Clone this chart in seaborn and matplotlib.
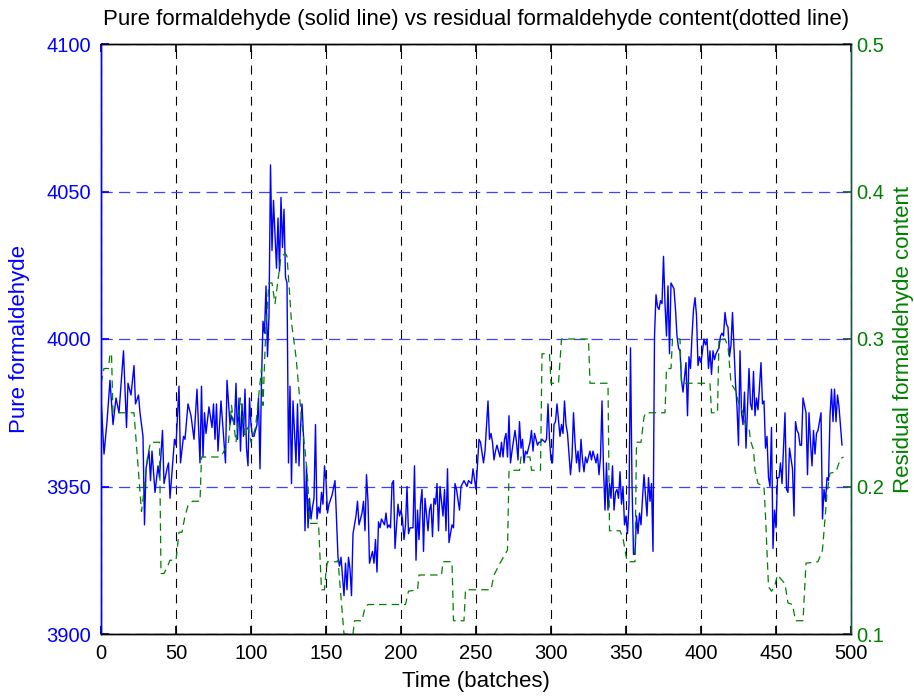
import matplotlib
matplotlib.use("Agg")
import matplotlib.pyplot as plt
import seaborn as sns
import pandas as pd

# ---------------- data ----------------
blue_batch = [0, 2, 4, 6, 8, 10, 12, 15, 17, 18, 20, 22, 23, 25, 26, 28, 29, 30, 32, 33, 34, 36, 38, 39, 41, 42, 44, 45, 46, 49,
              50, 52, 53, 55, 56, 58, 60, 62, 64, 66, 67, 68, 69, 70, 72, 74, 75, 76, 77, 78, 80, 82, 83, 84, 86, 87, 89, 90, 91, 92,
              93, 94, 95, 96, 97, 98, 99, 100, 101, 102, 104, 105, 106, 107, 108, 109, 110, 111, 112, 113, 114, 115, 117, 118, 119, 120,
              121, 122, 123, 124, 125, 126, 127, 128, 130, 131, 132, 133, 134, 135, 136, 137, 138, 139, 140, 141, 142, 143, 144, 145,
              146, 147, 148, 149, 150, 151, 152, 154, 156, 158, 159, 160, 162, 163, 164, 165, 166, 167, 168, 170, 171, 172, 174, 175,
              176, 177, 178, 179, 181, 182, 183, 184, 185, 186, 187, 189, 190, 191, 192, 193, 194, 195, 196, 198, 199, 200, 201, 202,
              203, 204, 205, 206, 208, 209, 210, 211, 212, 213, 214, 215, 216, 218, 219, 220, 221, 222, 223, 224, 225, 226, 228, 229,
              230, 231, 232, 234, 235, 236, 237, 239, 240, 241, 242, 244, 245, 247, 248, 250, 252, 253, 255, 256, 258, 259, 260, 261,
              262, 263, 264, 266, 267, 268, 269, 270, 271, 272, 273, 274, 276, 277, 278, 279, 280, 281, 282, 283, 284, 286, 287, 288,
              289, 290, 291, 292, 293, 294, 296, 297, 298, 299, 300, 301, 302, 303, 304, 306, 307, 308, 309, 310, 311, 313, 314, 315,
              316, 317, 318, 319, 320, 321, 322, 323, 324, 325, 326, 327, 328, 330, 331, 332, 333, 334, 335, 336, 337, 338, 339, 340,
              341, 342, 343, 344, 345, 346, 347, 348, 349, 350, 351, 352, 353, 354, 355, 356, 357, 358, 359, 360, 361, 362, 364, 365,
              366, 367, 368, 369, 370, 371, 372, 373, 374, 375, 376, 377, 378, 379, 380, 382, 383, 384, 385, 386, 387, 388, 389, 390,
              391, 392, 393, 394, 395, 396, 397, 398, 399, 400, 402, 403, 404, 405, 406, 407, 408, 409, 410, 412, 413, 414, 415, 416,
              417, 418, 419, 420, 421, 422, 423, 424, 425, 426, 427, 428, 429, 430, 432, 433, 434, 435, 436, 437, 438, 440, 441, 442,
              443, 444, 445, 446, 447, 448, 449, 450, 451, 452, 453, 454, 456, 457, 458, 459, 461, 462, 463, 464, 465, 466, 467, 468,
              470, 471, 472, 473, 474, 475, 476, 477, 478, 480, 481, 482, 483, 484, 485, 486, 487, 488, 489, 490, 491, 492, 494]
blue_value = [3980, 3961, 3972, 3986, 3971, 3980, 3975, 3996, 3970, 3985, 3981, 3991, 3978, 3981, 3975, 3967, 3937, 3956, 3962, 3952,
              3962, 3948, 3957, 3953, 3969, 3951, 3956, 3958, 3946, 3966, 3964, 3984, 3958, 3967, 3966, 3978, 3974, 3966, 3983, 3958,
              3984, 3960, 3975, 3968, 3977, 3970, 3978, 3966, 3978, 3962, 3979, 3965, 3958, 3986, 3971, 3974, 3971, 3985, 3966, 3980,
              3962, 3978, 3967, 3983, 3963, 3957, 3980, 3971, 3967, 3967, 3971, 3980, 3956, 3986, 4006, 4002, 4018, 3994, 4008, 4059,
              4030, 4047, 4024, 4041, 4023, 4048, 4031, 4044, 4021, 4019, 3958, 3984, 3951, 3979, 3958, 3978, 3957, 3970, 3978, 3967,
              3935, 3957, 3936, 3946, 3939, 3943, 3946, 3971, 3939, 3943, 3941, 3948, 3944, 3957, 3952, 3941, 3944, 3947, 3952, 3926,
              3923, 3926, 3913, 3924, 3915, 3926, 3922, 3913, 3934, 3940, 3945, 3937, 3941, 3945, 3935, 3954, 3945, 3924, 3928, 3924,
              3932, 3921, 3938, 3936, 3939, 3937, 3941, 3936, 3937, 3936, 3951, 3952, 3929, 3944, 3940, 3942, 3939, 3932, 3937, 3950,
              3934, 3936, 3936, 3957, 3925, 3942, 3932, 3944, 3949, 3928, 3946, 3935, 3942, 3944, 3933, 3946, 3944, 3951, 3935, 3950,
              3940, 3949, 3935, 3956, 3931, 3937, 3936, 3951, 3949, 3942, 3950, 3951, 3952, 3950, 3952, 3951, 3956, 3949, 3966, 3965,
              3958, 3962, 3979, 3966, 3968, 3965, 3959, 3962, 3964, 3960, 3965, 3960, 3966, 3968, 3960, 3974, 3958, 3962, 3969, 3965,
              3959, 3972, 3963, 3966, 3958, 3962, 3961, 3965, 3969, 3962, 3968, 3966, 3964, 3965, 3965, 3966, 3965, 3966, 3978, 3966,
              3959, 3958, 3971, 3972, 3978, 3967, 3971, 3968, 3979, 3971, 3968, 3954, 3960, 3975, 3965, 3958, 3962, 3955, 3966, 3959,
              3955, 3960, 3958, 3960, 3962, 3959, 3962, 3958, 3961, 3954, 3960, 3979, 3956, 3942, 3958, 3942, 3951, 3946, 3957, 3942,
              3948, 3949, 3946, 3955, 3944, 3950, 3937, 3940, 3934, 3944, 3997, 3951, 3927, 3927, 3940, 3934, 3941, 3937, 3946, 3954,
              3940, 3953, 3945, 3951, 3928, 4001, 4015, 4011, 4010, 4013, 4012, 4028, 4012, 4001, 4018, 3995, 4019, 4017, 4010, 4001,
              3997, 3996, 3986, 3982, 3987, 3992, 3974, 3994, 3990, 4001, 4010, 4014, 4008, 3991, 3994, 3992, 4000, 3998, 4000, 3990,
              3996, 3988, 3996, 3993, 3995, 3997, 4001, 4002, 4001, 4009, 4005, 4004, 3994, 3998, 4009, 3997, 3985, 3977, 3964, 3996,
              3975, 3971, 3982, 3963, 3990, 3978, 3976, 3989, 3974, 3980, 3976, 3992, 3978, 3979, 3963, 3967, 3953, 3950, 3970, 3929,
              3942, 3936, 3953, 3953, 3958, 3951, 3975, 3949, 3948, 3963, 3956, 3940, 3972, 3969, 3968, 3964, 3964, 3980, 3975, 3954,
              3975, 3965, 3957, 3969, 3961, 3968, 3969, 3975, 3939, 3949, 3945, 3953, 3952, 3974, 3983, 3972, 3983, 3972, 3981, 3977,
              3964]

green_batch = [0, 2, 5, 6, 7, 8, 21, 22, 27, 29, 31, 33, 39, 40, 42, 44, 46, 50, 52, 54, 56, 58, 61, 66, 67, 79, 81, 85, 87, 90,
               93, 96, 98, 100, 103, 105, 107, 108, 110, 112, 114, 116, 118, 120, 123, 124, 125, 127, 130, 132, 134, 136, 138, 139,
               145, 147, 149, 150, 151, 157, 158, 162, 168, 169, 174, 176, 178, 203, 205, 211, 212, 227, 228, 234, 235, 242, 243,
               260, 262, 266, 271, 272, 279, 280, 286, 287, 293, 294, 299, 300, 305, 307, 325, 326, 338, 339, 346, 348, 350, 351,
               356, 357, 360, 362, 363, 376, 377, 380, 381, 386, 387, 406, 407, 411, 412, 416, 418, 420, 423, 425, 428, 430, 432,
               433, 435, 436, 438, 442, 443, 445, 447, 449, 451, 456, 458, 461, 463, 468, 470, 478, 481, 484, 486, 490, 493, 495]
green_value = [0.27, 0.28, 0.28, 0.29, 0.29, 0.25, 0.25, 0.25, 0.183, 0.20, 0.22, 0.23, 0.23, 0.141, 0.141, 0.145, 0.15, 0.15,
               0.169, 0.169, 0.18, 0.187, 0.19, 0.19, 0.22, 0.22, 0.222, 0.23, 0.255, 0.23, 0.26, 0.235, 0.24, 0.23, 0.24, 0.26,
               0.28, 0.255, 0.31, 0.338, 0.338, 0.324, 0.34, 0.356, 0.358, 0.356, 0.342, 0.311, 0.288, 0.265, 0.243, 0.225, 0.202,
               0.175, 0.175, 0.13, 0.13, 0.143, 0.149, 0.149, 0.15, 0.10, 0.10, 0.109, 0.109, 0.118, 0.12, 0.12, 0.129, 0.13, 0.14,
               0.14, 0.149, 0.149, 0.109, 0.109, 0.13, 0.13, 0.14, 0.148, 0.157, 0.211, 0.211, 0.22, 0.22, 0.211, 0.211, 0.29,
               0.29, 0.27, 0.27, 0.30, 0.30, 0.27, 0.27, 0.17, 0.17, 0.165, 0.153, 0.149, 0.149, 0.23, 0.23, 0.247, 0.25, 0.25,
               0.28, 0.28, 0.30, 0.30, 0.27, 0.27, 0.25, 0.25, 0.30, 0.30, 0.295, 0.27, 0.265, 0.257, 0.25, 0.24, 0.24, 0.231,
               0.225, 0.211, 0.202, 0.20, 0.18, 0.132, 0.129, 0.132, 0.14, 0.134, 0.121, 0.12, 0.109, 0.109, 0.148, 0.149, 0.157,
               0.195, 0.209, 0.21, 0.219, 0.22]

x_ticks = [0, 50, 100, 150, 200, 250, 300, 350, 400, 450, 500]
left_ticks = [3900, 3950, 4000, 4050, 4100]
right_ticks = [0.1, 0.2, 0.3, 0.4, 0.5]

title_text = "Pure formaldehyde (solid line) vs residual formaldehyde content(dotted line)"
xlabel_text = "Time (batches)"
left_label = "Pure formaldehyde"
right_label = "Residual formaldehyde content"

# ---------------- style ----------------
sns.set_theme(style="white")
plt.rcParams['font.family'] = ['Liberation Sans', 'DejaVu Sans']

BLUE = (0, 0, 1)
GREEN = (0, 0.5, 0)
RIGHT_SPINE = (0.1, 0.33, 0.28)
FS_TICK = 14.5
FS_TEXT = 16

df_blue = pd.DataFrame({"batch": blue_batch, "value": blue_value})
df_green = pd.DataFrame({"batch": green_batch, "value": green_value})

fig = plt.figure(figsize=(9.14, 6.98), dpi=100)
ax = fig.add_axes([101 / 914, 1 - 634 / 698, 750 / 914, 590 / 698])
ax2 = ax.twinx()

sns.lineplot(data=df_blue, x="batch", y="value", ax=ax, color=BLUE, lw=1.0, estimator=None, sort=False)
sns.lineplot(data=df_green, x="batch", y="value", ax=ax2, color=GREEN, lw=0.9, estimator=None, sort=False,
             linestyle=(0, (6, 4)))

ax.set_xlim(0, 500)
ax.set_ylim(3900, 4100)
ax2.set_ylim(0.1, 0.5)
ax.set_xticks(x_ticks)
ax.set_yticks(left_ticks)
ax2.set_yticks(right_ticks)
ax2.set_yticklabels([f"{v:.1f}" for v in right_ticks])

# grids (MATLAB-like)
ax.xaxis.grid(True, color='black', linestyle=(0, (8, 6)), linewidth=0.8)
ax.yaxis.grid(True, color=(0.25, 0.25, 1.0), linestyle=(0, (9, 5)), linewidth=0.9)
ax.set_axisbelow(True)
ax2.grid(False)

# ticks
ax.tick_params(axis='x', direction='in', length=6, top=True, bottom=True, labelsize=FS_TICK, colors='black', pad=7)
ax.tick_params(axis='y', direction='in', length=6, left=True, right=False, labelsize=FS_TICK, colors=BLUE, pad=7)
ax2.tick_params(axis='y', direction='in', length=6, right=True, left=False, labelsize=FS_TICK, colors=GREEN, pad=4)
ax2.tick_params(axis='y', color=RIGHT_SPINE)

for a in (ax, ax2):
    for s in a.spines.values():
        s.set_linewidth(1.0)
        s.set_color('black')
ax.spines['left'].set_color(BLUE)
ax2.spines['left'].set_color(BLUE)
ax2.spines['right'].set_color(RIGHT_SPINE)
ax.spines['right'].set_color(RIGHT_SPINE)

ax.set_xlabel(xlabel_text, fontsize=FS_TEXT, color='black', labelpad=6)
ax.set_ylabel(left_label, fontsize=FS_TEXT, color=BLUE, labelpad=12)
ax2.set_ylabel(right_label, fontsize=FS_TEXT, color=GREEN, labelpad=6)
ax.set_title(title_text, fontsize=FS_TEXT, color='black', pad=14)

fig.savefig("out.png", dpi=100)
